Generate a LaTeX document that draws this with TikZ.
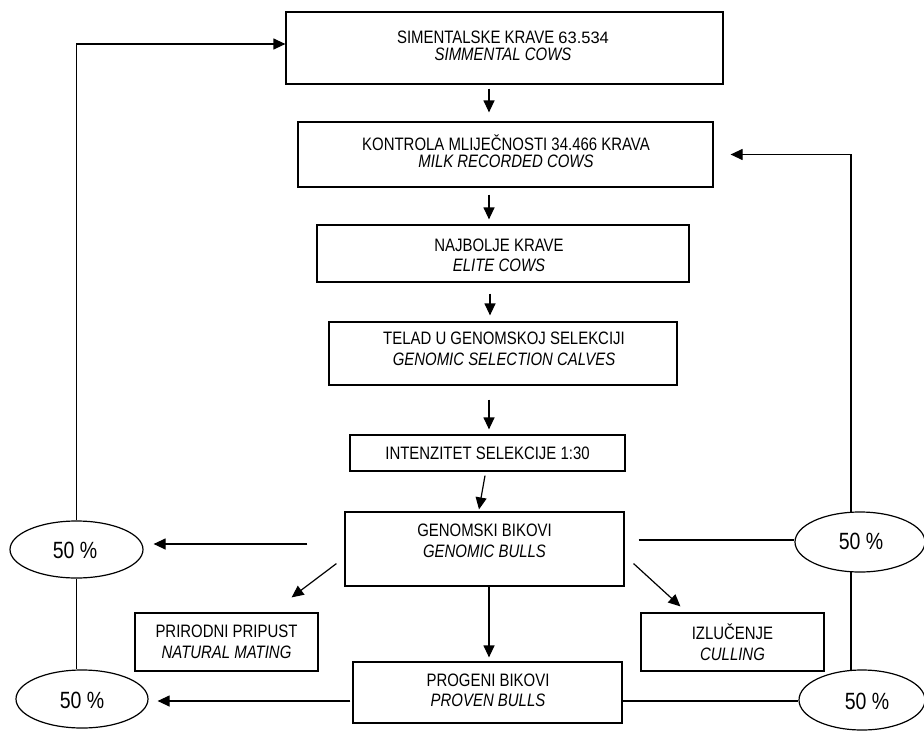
\documentclass[tikz,border=0pt]{standalone}
\usepackage{fontspec}
\setmainfont[FakeStretch=0.83]{Liberation Sans}
\newfontfamily\numfont{Liberation Sans}
\usetikzlibrary{calc,arrows.meta,shapes.geometric}

\tikzset{
  boxnode/.style={draw, line width=1.2pt, rectangle, inner sep=0pt},
  ovalnode/.style={draw, line width=1.2pt, ellipse, inner sep=0pt},
  txt/.style={inner sep=0pt, align=center, font=\fontsize{18}{20.5}\selectfont},
  txttight/.style={txt, font=\fontsize{18}{17.5}\selectfont},
  pct/.style={inner sep=0pt, font=\fontsize{23.5}{24}\selectfont},
  flow/.style={line width=1.2pt, -{Triangle[length=12pt,width=11pt]}},
  plain/.style={line width=1.2pt},
}

\begin{document}
\begin{tikzpicture}[x=1pt, y=-1pt]
\useasboundingbox (0,0) rectangle (924,731);

% boxes of the selection scheme
\node[boxnode, minimum width=437pt, minimum height=72pt] (b1) at (504.5,48) {};
\node[boxnode, minimum width=415pt, minimum height=65pt] (b2) at (505.5,154.5) {};
\node[boxnode, minimum width=372pt, minimum height=57pt] (b3) at (503,253.5) {};
\node[boxnode, minimum width=348pt, minimum height=63pt] (b4) at (503,353.5) {};
\node[boxnode, minimum width=275pt, minimum height=36pt] (b5) at (487.5,453) {};
\node[boxnode, minimum width=279pt, minimum height=74pt] (b6) at (484.5,549) {};
\node[boxnode, minimum width=183pt, minimum height=58pt] (b7) at (226.5,642) {};
\node[boxnode, minimum width=183pt, minimum height=58pt] (b8) at (732.5,642) {};
\node[boxnode, minimum width=269pt, minimum height=61pt] (b9) at (487.5,692.5) {};

% box texts
\node[txttight] (t1) at (503,46) {SIMENTALSKE KRAVE {\numfont\fontsize{16.5}{17.5}\selectfont 63.534}\\\itshape SIMMENTAL COWS};
\node[txttight] (t2) at (506,151) {KONTROLA MLIJEČNOSTI 34.466 KRAVA\\\itshape MILK RECORDED COWS};
\node[txt] (t3) at (499,255.5) {NAJBOLJE KRAVE\\\itshape ELITE COWS};
\node[txt] (t4) at (504,349) {TELAD U GENOMSKOJ SELEKCIJI\\\itshape GENOMIC SELECTION CALVES};
\node[txt] (t5) at (487.5,453) {INTENZITET SELEKCIJE 1:30};
\node[txt] (t6) at (484.5,541) {GENOMSKI BIKOVI\\\itshape GENOMIC BULLS};
\node[txt] (t7) at (226.5,642) {PRIRODNI PRIPUST\\\itshape NATURAL MATING};
\node[txt] (t8) at (732.5,642) {IZLUČENJE\\\itshape CULLING};
\node[txt] (t9) at (488,690.5) {PROGENI BIKOVI\\\itshape PROVEN BULLS};

% share ovals
\node[ovalnode, minimum width=133pt, minimum height=57pt] (e1) at (76.5,549.5) {};
\node[ovalnode, minimum width=132pt, minimum height=58pt] (e2) at (82,699) {};
\node[ovalnode, minimum width=130pt, minimum height=60pt] (e3) at (860,542) {};
\node[ovalnode, minimum width=126pt, minimum height=60pt] (e4) at (862,700) {};
\node[pct] (p1) at (75,550) {50 \%};
\node[pct] (p2) at (82,700) {50 \%};
\node[pct] (p3) at (861,541) {50 \%};
\node[pct] (p4) at (867,701) {50 \%};

% main downward flow
\draw[flow] ($(b1.south)+(-15.5,4)$) -- ($(b2.north)+(-16.5,-9)$);
\draw[flow] ($(b2.south)+(-16.5,7)$) -- ($(b3.north)+(-14,-5)$);
\draw[flow] ($(b3.south)+(-13,11)$) -- ($(b4.north)+(-13,-6)$);
\draw[flow] ($(b4.south)+(-14,14)$) -- ($(b5.north)+(1.5,-5)$);
\draw[flow] ($(b5.south)+(-2.5,4)$) -- ($(b6.north)+(-5.5,-2)$);
\draw[flow] ($(b6.south)+(4.5,0)$) -- ($(b9.north)+(1.5,-4)$);
\draw[flow] ($(b6.south west)+(-8,-23)$) -- ($(b7.north east)+(-27,-15)$);
\draw[flow] ($(b6.south east)+(9,-23)$) -- ($(b8.north west)+(40,-6)$);

% genomic bulls split into the two 50 % shares
\coordinate (g1) at ($(b6.west)+(-37,-5)$);
\draw[flow, shorten >=10pt] (g1) -- (g1 -| e1.east);
\coordinate (g2) at ($(b6.east)+(14,-9)$);
\draw[plain] (g2) -- (g2 -| e3.west);

% proven bulls split into the two 50 % shares
\coordinate (r1) at ($(b9.west)+(-2,8.5)$);
\draw[flow, shorten >=9pt] (r1) -- (r1 -| e2.east);
\coordinate (r2) at ($(b9.east)+(0,8.5)$);
\draw[plain] (r2) -- (r2 -| e4.west);

% left return loop to the cow population
\draw[flow] (e1.north) |- ($(b1.west)+(0,-4)$);
\draw[plain] (e1.south) -- (e1.south |- e2.north);

% right return loop to the milk recorded cows
\coordinate (k1) at ($(e3.north)+(-9,0.3)$);
\coordinate (k2) at ($(b2.east)+(17,0)$);
\draw[flow] (k1) |- (k2);
\draw[plain] ($(e3.south)+(-9,-0.3)$) -- ($(e4.north)+(-11,0.3)$);

\end{tikzpicture}
\end{document}
